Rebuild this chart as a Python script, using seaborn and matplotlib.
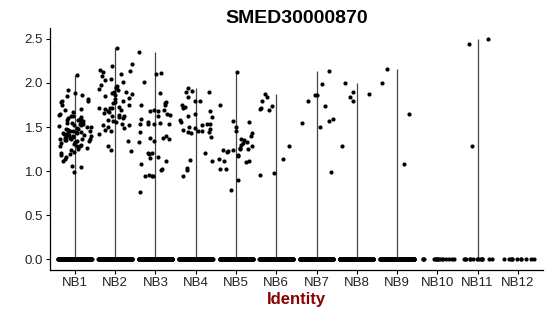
import numpy as np
import pandas as pd
import matplotlib
matplotlib.use("Agg")
import matplotlib.pyplot as plt
import seaborn as sns

groups = ["NB1", "NB2", "NB3", "NB4", "NB5", "NB6", "NB7", "NB8", "NB9", "NB10", "NB11", "NB12"]

nb1 = [2.09, 1.86, 1.92, 1.89, 1.82, 1.80, 1.75, 1.69, 1.65, 1.67, 1.64, 1.62, 1.59, 1.58, 1.58, 1.58,
       1.51, 1.49, 1.55, 1.55, 1.47, 1.44, 1.45, 1.43, 1.44, 1.41, 1.47, 1.39, 1.36, 1.37, 1.40, 1.30,
       1.34, 1.26, 1.24, 1.21, 1.28, 1.28, 1.19, 1.16, 1.06, 0.99, 1.85, 1.60, 1.52, 1.50, 1.48, 1.46,
       1.42, 1.40, 1.38, 1.35, 1.33, 1.32, 1.31, 1.38, 1.36, 1.53, 1.56, 1.61, 1.63, 1.70, 1.45, 1.43,
       1.41, 1.39, 1.37, 1.35, 1.50, 1.48, 1.52, 1.54, 1.57, 1.22, 1.25, 1.29, 1.18, 1.14, 1.12, 1.78,
       1.80, 1.34, 1.42, 1.46, 1.05]
nb2 = [2.40, 2.19, 2.22, 2.14, 2.12, 2.15, 2.08, 2.03, 2.01, 1.96, 1.95, 1.90, 1.93, 1.89, 1.88, 1.90,
       1.92, 1.85, 1.83, 1.77, 1.73, 1.70, 1.67, 1.72, 1.72, 1.72, 1.69, 1.66, 1.64, 1.61, 1.54, 1.50,
       1.58, 1.49, 1.46, 1.52, 1.52, 1.42, 1.34, 1.29, 1.24, 1.23, 1.57, 1.60, 1.62, 1.75, 1.80, 1.86,
       1.98, 2.05, 1.78, 1.68, 1.56, 1.47, 1.82, 1.94, 2.10, 1.63]
nb3 = [2.35, 2.11, 2.10, 2.01, 1.89, 1.78, 1.77, 1.75, 1.75, 1.68, 1.65, 1.63, 1.59, 1.69, 1.68, 1.69,
       1.55, 1.53, 1.54, 1.53, 1.56, 1.54, 1.44, 1.38, 1.36, 1.34, 1.40, 1.38, 1.21, 1.21, 1.20, 1.16,
       1.15, 1.08, 1.02, 0.96, 0.95, 0.95, 0.76, 1.01, 0.94, 1.64, 1.33, 1.12]
nb4 = [1.94, 1.90, 1.90, 1.91, 1.75, 1.79, 1.80, 1.73, 1.68, 1.65, 1.61, 1.63, 1.56, 1.53, 1.50, 1.48,
       1.49, 1.52, 1.47, 1.44, 1.45, 1.39, 1.54, 1.44, 1.21, 1.12, 1.04, 0.95, 1.01, 1.46, 1.43, 1.58,
       1.72, 1.84, 1.13]
nb5 = [2.12, 1.75, 1.56, 1.57, 1.46, 1.43, 1.40, 1.32, 1.35, 1.33, 1.30, 1.26, 1.25, 1.24, 1.28, 1.23,
       1.22, 1.25, 1.18, 1.17, 1.12, 1.14, 1.11, 1.03, 0.90, 0.79, 1.36, 1.24, 1.02, 1.10, 1.50]
nb6 = [1.84, 1.87, 1.80, 1.71, 1.74, 1.72, 1.69, 1.28, 1.14, 0.98, 0.96]
nb7 = [2.14, 1.99, 1.86, 1.86, 1.80, 1.57, 1.50, 1.55, 1.74, 1.59, 0.99]
nb8 = [1.80, 1.84, 1.28, 2.00, 1.88, 1.90]
nb9 = [1.65, 2.00, 2.16, 1.08]
nb10 = []
nb11 = [2.50, 2.44, 1.29]
nb12 = []
expressed = [nb1, nb2, nb3, nb4, nb5, nb6, nb7, nb8, nb9, nb10, nb11, nb12]
zero_counts = [260, 260, 260, 260, 260, 260, 260, 260, 260, 16, 14, 11]

rows = []
for g, vals, nz in zip(groups, expressed, zero_counts):
    for v in vals:
        rows.append((g, v))
    for _ in range(nz):
        rows.append((g, 0.0))
df = pd.DataFrame(rows, columns=["Identity", "Expression"])
df["Identity"] = pd.Categorical(df["Identity"], categories=groups, ordered=True)

sns.set_theme(style="ticks")
plt.rcParams["font.family"] = ["Liberation Sans", "DejaVu Sans"]

fig = plt.figure(figsize=(5.5, 3.16), dpi=100)
ax = fig.add_axes([0.0909, 0.1456, 0.896, 0.765])

# thin violin bodies (essentially vertical lines from 0 to max)
maxes = df.groupby("Identity", observed=False)["Expression"].max().reindex(groups)
ax.vlines(np.arange(len(groups)), 0, maxes.values, color="#444444", lw=0.9, zorder=1)

np.random.seed(3)
sns.stripplot(data=df, x="Identity", y="Expression", order=groups, jitter=0.42,
              size=3.0, color="black", linewidth=0, ax=ax, zorder=2)

ax.set_xlim(-0.62, 11.62)
ax.set_ylim(-0.12, 2.62)
ax.set_yticks([0.0, 0.5, 1.0, 1.5, 2.0, 2.5])
ax.set_yticklabels(["0.0", "0.5", "1.0", "1.5", "2.0", "2.5"])
ax.set_ylabel("")
ax.set_xlabel("Identity", fontsize=12, fontweight="bold", color="#8B0000", labelpad=2)
ax.set_title("SMED30000870", fontsize=14, fontweight="bold", pad=4, color="black")
for s in ["top", "right"]:
    ax.spines[s].set_visible(False)
for s in ["left", "bottom"]:
    ax.spines[s].set_color("black")
    ax.spines[s].set_linewidth(0.9)
ax.tick_params(axis="both", labelsize=9.5, labelcolor="#222222", length=3, width=0.8, pad=2, color="black")

fig.savefig("out.png", dpi=100)
